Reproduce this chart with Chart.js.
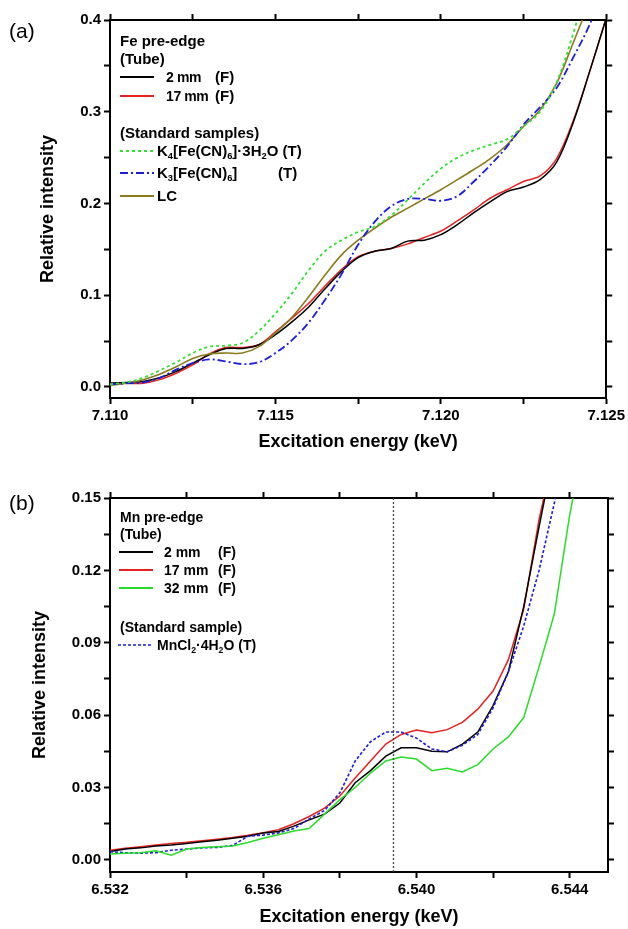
<!DOCTYPE html>
<html>
<head>
<meta charset="utf-8">
<script src="https://cdn.jsdelivr.net/npm/chart.js@4.4.0/dist/chart.umd.min.js"></script>
<style>
  html,body{margin:0;padding:0;background:#fff;}
  #wrap{position:relative;width:628px;height:929px;font-family:"Liberation Sans",Arial,sans-serif;color:#000;}
  canvas{position:absolute;left:0;}
  .lab{position:absolute;font-size:21px;line-height:24px;}
  .t{position:absolute;white-space:pre;font-weight:bold;}
  .la .t{font-size:15px;line-height:18px;}
  .lb .t{font-size:14px;line-height:17px;}
  .la .t.nm{font-size:14px;letter-spacing:-0.4px;}
  .t sub{font-size:0.62em;line-height:0;vertical-align:-0.3em;}
  svg.smp{position:absolute;overflow:visible;}
</style>
</head>
<body>
<div id="wrap">
  <canvas id="chartA" width="628" height="462" style="top:0"></canvas>
  <canvas id="chartB" width="628" height="467" style="top:462px"></canvas>

  <div class="lab" style="left:9px;top:19px">(a)</div>
  <div class="lab" style="left:9px;top:491px">(b)</div>

  <div class="la">
    <div class="t" style="left:120px;top:32px">Fe pre-edge</div>
    <div class="t" style="left:120px;top:50px">(Tube)</div>
    <svg class="smp" style="left:120px;top:71px" width="34" height="12"><line x1="0" y1="6" x2="34" y2="6" stroke="#000" stroke-width="2"/></svg>
    <div class="t nm" style="left:166px;top:68px">2 mm</div><div class="t" style="left:215px;top:68px">(F)</div>
    <svg class="smp" style="left:120px;top:90px" width="34" height="12"><line x1="0" y1="6" x2="34" y2="6" stroke="#e8201f" stroke-width="2"/></svg>
    <div class="t nm" style="left:166px;top:87px">17 mm</div><div class="t" style="left:215px;top:87px">(F)</div>
    <div class="t" style="left:120px;top:124px">(Standard samples)</div>
    <svg class="smp" style="left:120px;top:145px" width="34" height="12"><line x1="0" y1="6" x2="34" y2="6" stroke="#33e033" stroke-width="2" stroke-dasharray="3,3"/></svg>
    <div class="t" style="left:157px;top:142px">K<sub>4</sub>[Fe(CN)<sub>6</sub>]·3H<sub>2</sub>O (T)</div>
    <svg class="smp" style="left:120px;top:167px" width="34" height="12"><line x1="0" y1="6" x2="34" y2="6" stroke="#1c1cdc" stroke-width="2" stroke-dasharray="8,3,2,3"/></svg>
    <div class="t" style="left:157px;top:164px">K<sub>3</sub>[Fe(CN)<sub>6</sub>]</div><div class="t" style="left:278px;top:164px">(T)</div>
    <svg class="smp" style="left:120px;top:190px" width="34" height="12"><line x1="0" y1="6" x2="34" y2="6" stroke="#8b7b1c" stroke-width="2"/></svg>
    <div class="t" style="left:157px;top:187px">LC</div>
  </div>

  <div class="lb">
    <div class="t" style="left:120px;top:509px">Mn pre-edge</div>
    <div class="t" style="left:120px;top:526px">(Tube)</div>
    <svg class="smp" style="left:119px;top:546px" width="34" height="12"><line x1="0" y1="6" x2="34" y2="6" stroke="#000" stroke-width="2"/></svg>
    <div class="t" style="left:164px;top:544px">2 mm</div><div class="t" style="left:218px;top:544px">(F)</div>
    <svg class="smp" style="left:119px;top:564px" width="34" height="12"><line x1="0" y1="6" x2="34" y2="6" stroke="#e8201f" stroke-width="2"/></svg>
    <div class="t" style="left:164px;top:562px">17 mm</div><div class="t" style="left:218px;top:562px">(F)</div>
    <svg class="smp" style="left:119px;top:582px" width="34" height="12"><line x1="0" y1="6" x2="34" y2="6" stroke="#28dd28" stroke-width="2"/></svg>
    <div class="t" style="left:164px;top:580px">32 mm</div><div class="t" style="left:218px;top:580px">(F)</div>
    <div class="t" style="left:120px;top:619px">(Standard sample)</div>
    <svg class="smp" style="left:118px;top:639px" width="34" height="12"><line x1="0" y1="6" x2="34" y2="6" stroke="#1c1cdc" stroke-width="1.5" stroke-dasharray="3,2"/></svg>
    <div class="t" style="left:157px;top:637px">MnCl<sub>2</sub>·4H<sub>2</sub>O (T)</div>
  </div>
</div>

<script>
// ---- panel (a): Fe pre-edge ----
const energyA = [7.1100,7.1105,7.1110,7.1115,7.1120,7.1125,7.1130,7.1135,7.1140,7.1145,
  7.1150,7.1155,7.1160,7.1165,7.1170,7.1175,7.1180,7.1185,7.1190,7.1195,
  7.1200,7.1205,7.1210,7.1215,7.1220,7.1225,7.1230,7.1235,7.1240,7.1245,7.1250];
const fe2mm = [0.004,0.005,0.006,0.010,0.017,0.026,0.035,0.042,0.042,0.046,
  0.057,0.071,0.087,0.107,0.126,0.141,0.148,0.151,0.159,0.160,
  0.166,0.177,0.190,0.202,0.213,0.218,0.226,0.245,0.288,0.344,0.402];
const fe17mm = [0.004,0.004,0.004,0.008,0.015,0.024,0.036,0.043,0.043,0.046,
  0.060,0.075,0.091,0.110,0.128,0.142,0.148,0.151,0.156,0.163,
  0.170,0.181,0.193,0.206,0.215,0.224,0.230,0.249,0.290,0.344,0.402];
const feK4 = [0.003,0.005,0.010,0.018,0.027,0.037,0.044,0.045,0.048,0.061,
  0.080,0.102,0.127,0.148,0.160,0.169,0.175,0.187,0.204,0.222,
  0.238,0.250,0.258,0.264,0.270,0.284,0.300,0.332,0.385,0.450,null];
const feK3 = [0.003,0.004,0.005,0.010,0.019,0.026,0.030,0.028,0.025,0.027,
  0.037,0.051,0.070,0.095,0.123,0.155,0.180,0.197,0.205,0.205,
  0.203,0.208,0.224,0.242,0.262,0.286,0.305,0.326,0.359,0.395,0.440];
const feLC = [0.002,0.004,0.008,0.014,0.022,0.031,0.036,0.037,0.037,0.044,
  0.059,0.076,0.098,0.122,0.144,0.160,0.173,0.185,0.195,0.205,
  0.215,0.226,0.237,0.249,0.264,0.284,0.302,0.331,0.375,0.420,null];
const xTicksA = [7.110,7.1125,7.115,7.1175,7.120,7.1225,7.125];
const xLabelsA = [7.110,7.115,7.120,7.125];
const yTicksA = [0,0.05,0.1,0.15,0.2,0.25,0.3,0.35,0.4];
const yLabelsA = [0,0.1,0.2,0.3,0.4];

// ---- panel (b): Mn pre-edge ----
const energyB = [6.5320,6.5324,6.5328,6.5332,6.5336,6.5340,6.5344,6.5348,6.5352,6.5356,
  6.5360,6.5364,6.5368,6.5372,6.5376,6.5380,6.5384,6.5388,6.5392,6.5396,
  6.5400,6.5404,6.5408,6.5412,6.5416,6.5420,6.5424,6.5428,6.5432,6.5436,6.5440,6.5444];
const mn2mm = [0.0035,0.0045,0.0050,0.0058,0.0062,0.0068,0.0075,0.0082,0.0090,0.0098,
  0.0112,0.0118,0.0140,0.0166,0.0190,0.0236,0.0320,0.0370,0.0430,0.0465,
  0.0465,0.0450,0.0448,0.0480,0.0530,0.0640,0.0780,0.1050,0.1380,0.1700,null,null];
const mn17mm = [0.0040,0.0048,0.0055,0.0062,0.0068,0.0073,0.0080,0.0086,0.0093,0.0102,
  0.0113,0.0125,0.0150,0.0180,0.0215,0.0265,0.0340,0.0410,0.0480,0.0520,
  0.0538,0.0527,0.0540,0.0570,0.0625,0.0700,0.0830,0.1040,0.1410,0.1700,null,null];
const mn32mm = [0.0025,0.0028,0.0030,0.0038,0.0020,0.0045,0.0052,0.0055,0.0058,0.0072,
  0.0090,0.0104,0.0120,0.0130,0.0190,0.0250,0.0300,0.0360,0.0410,0.0427,
  0.0418,0.0370,0.0380,0.0365,0.0395,0.0460,0.0510,0.0590,0.0800,0.1020,0.1430,0.1750];
const mnStd = [0.0034,0.0030,0.0028,0.0030,0.0040,0.0045,0.0050,0.0052,0.0060,0.0098,
  0.0103,0.0112,0.0130,0.0170,0.0205,0.0278,0.0410,0.0490,0.0530,0.0530,
  0.0505,0.0460,0.0448,0.0475,0.0520,0.0630,0.0780,0.0970,0.1200,0.1480,0.1800,null];
const markerEnergy = 6.5394;
const xTicksB = [6.532,6.534,6.536,6.538,6.540,6.542,6.544];
const xLabelsB = [6.532,6.536,6.540,6.544];
const yTicksB = [0,0.015,0.03,0.045,0.06,0.075,0.09,0.105,0.12,0.135,0.15];
const yLabelsB = [0,0.03,0.06,0.09,0.12,0.15];

const FONT = '"Liberation Sans", Arial, sans-serif';

function pts(xs, ys){ return xs.map((x,i)=>({x, y: ys[i]})); }

function line(label, data, color, dash, width){
  return {label, data, borderColor:color, backgroundColor:color, borderWidth:width||1.6,
    borderDash:dash||[], pointRadius:0, tension:0, fill:false, spanGaps:false};
}

function axis(pos, min, max, ticks, labels, digits, size){
  const horiz = pos==='top' || pos==='bottom';
  return {
    type:'linear', position:pos, min, max,
    afterBuildTicks(s){ s.ticks = ticks.map(v=>({value:v})); },
    afterFit(s){ if(horiz) s.height = size; else s.width = size; },
    ticks:{
      display: !!labels, autoSkip:false, maxRotation:0, padding:3, color:'#000',
      font:{family:FONT, size:15, weight:'bold'},
      callback(v){ return labels && labels.some(l=>Math.abs(l-v)<1e-9) ? v.toFixed(digits) : ''; }
    },
    grid:{drawOnChartArea:false, drawTicks:true, tickLength:6, tickWidth:2, tickColor:'#000'},
    border:{display:true, color:'#000', width:2}
  };
}

function title(text, pad){
  return {display:true, text, color:'#000', font:{family:FONT, size:18, weight:'bold'}, padding:pad};
}

// panel (a)
const xa = axis('bottom', 7.110, 7.125, xTicksA, xLabelsA, 3, 64);
xa.title = title('Excitation energy (keV)', {top:0, bottom:9});
const ya = axis('left', -0.012, 0.4, yTicksA, yLabelsA, 1, 110);
ya.title = title('Relative intensity', {top:37, bottom:0});

new Chart(document.getElementById('chartA'), {
  type:'line',
  data:{datasets:[
    line('K4[Fe(CN)6]·3H2O (T)', pts(energyA, feK4), '#33e033', [3,3], 1.8),
    line('K3[Fe(CN)6] (T)', pts(energyA, feK3), '#1c1cdc', [8,3,2,3], 1.8),
    line('LC', pts(energyA, feLC), '#8b7b1c', [], 1.6),
    line('2 mm (F)', pts(energyA, fe2mm), '#000000', [], 1.5),
    line('17 mm (F)', pts(energyA, fe17mm), '#e8201f', [], 1.5)
  ].map(d=>Object.assign(d,{tension:0.35}))},
  options:{
    responsive:false, animation:false,
    layout:{padding:{top:20, right:18, left:0, bottom:0}},
    plugins:{legend:{display:false}, tooltip:{enabled:false}},
    scales:{
      x: xa,
      y: ya,
      x2: axis('top', 7.110, 7.125, xTicksA, null, 3, 0),
      y2: axis('right', -0.012, 0.4, yTicksA, null, 1, 0)
    }
  }
});

// panel (b)
const xb = axis('bottom', 6.532, 6.545, xTicksB, xLabelsB, 3, 57);
xb.title = title('Excitation energy (keV)', {top:0, bottom:1});
const yb = axis('left', -0.005, 0.15, yTicksB, yLabelsB, 2, 110);
yb.title = title('Relative intensity', {top:29, bottom:0});

new Chart(document.getElementById('chartB'), {
  type:'line',
  data:{datasets:[
    line('marker', [{x:markerEnergy, y:-0.005},{x:markerEnergy, y:0.15}], '#444', [2,2], 1.3),
    line('32 mm (F)', pts(energyB, mn32mm), '#28dd28', [], 1.5),
    line('MnCl2·4H2O (T)', pts(energyB, mnStd), '#1c1cdc', [3,2], 1.6),
    line('2 mm (F)', pts(energyB, mn2mm), '#000000', [], 1.5),
    line('17 mm (F)', pts(energyB, mn17mm), '#e8201f', [], 1.5)
  ]},
  options:{
    responsive:false, animation:false,
    layout:{padding:{top:36, right:20, left:0, bottom:0}},
    plugins:{legend:{display:false}, tooltip:{enabled:false}},
    scales:{
      x: xb,
      y: yb,
      x2: axis('top', 6.532, 6.545, xTicksB, null, 3, 0),
      y2: axis('right', -0.005, 0.15, yTicksB, null, 2, 0)
    }
  }
});
</script>
</body>
</html>
